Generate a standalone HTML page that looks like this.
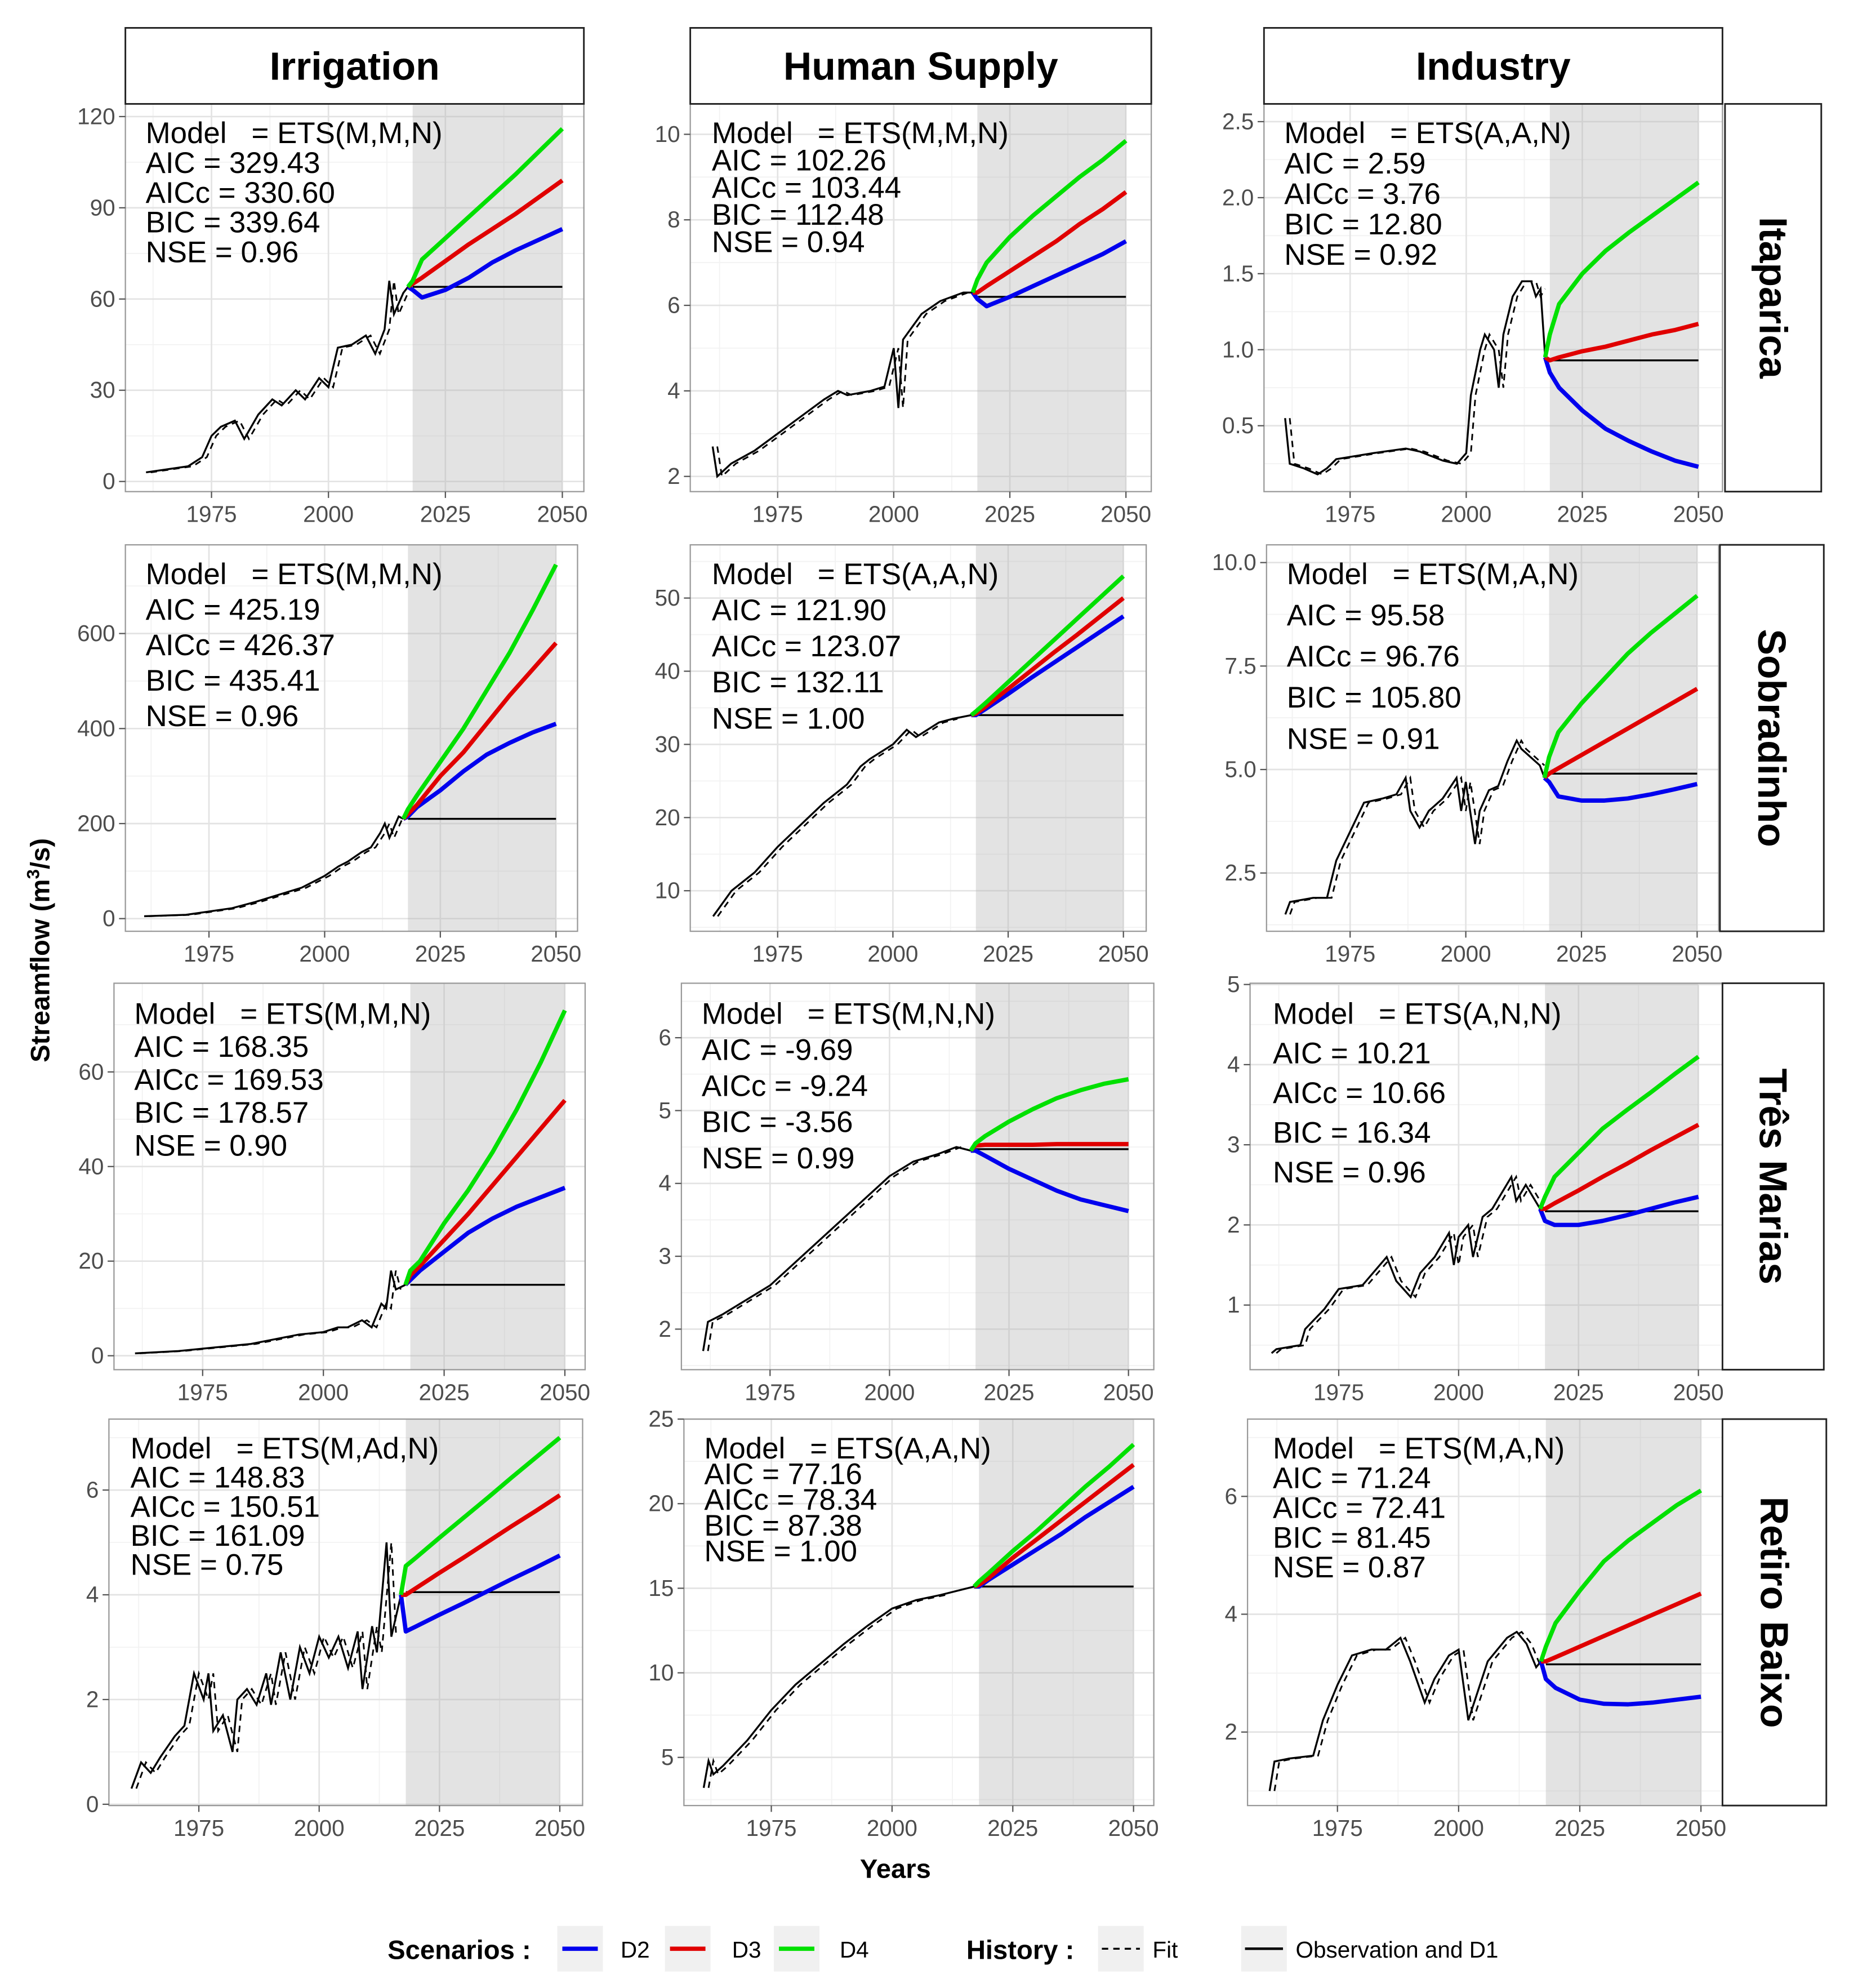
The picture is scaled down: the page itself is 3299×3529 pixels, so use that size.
<!DOCTYPE html>
<html><head><meta charset="utf-8">
<style>
html,body{margin:0;padding:0;background:#fff;}
svg{display:block;font-family:"Liberation Sans",Arial,sans-serif;}
</style></head>
<body>
<svg id="fig" xmlns="http://www.w3.org/2000/svg" width="3299" height="3529" viewBox="0 0 1467 1569" preserveAspectRatio="none">
<rect x="0" y="0" width="1467" height="1569" fill="#fff"/>
</svg>
<script>
// ---------- DATA ----------
const fcYears = [2018,2020,2025,2030,2035,2040,2045,2050];
const categories = ["Irrigation","Human Supply","Industry"];
const reservoirs = ["Itaparica","Sobradinho","Três Marias","Retiro Baixo"];

const obsYears_P1 = [1961,1970,1973,1975,1977,1980,1982,1985,1988,1990,1993,1995,1998,2000,2002,2005,2008,2010,2012,2013,2014,2016,2017];
const obsVals_P1  = [3,5,8,15,18,20,14,22,27,25,30,27,34,31,44,45,48,42,50,66,55,62,64];
const d1_P1 = 64;
const d2_P1 = [63,60.5,63,67,72,76,79.5,83];
const d3_P1 = [65,67,72.5,78,83,88,93.5,99];
const d4_P1 = [66,73,80,87,94,101,108.5,116];

const obsYears_P2 = [1961,1962,1965,1970,1975,1980,1985,1988,1990,1995,1998,2000,2001,2002,2004,2006,2010,2015,2017];
const obsVals_P2  = [2.7,2.0,2.3,2.6,3.0,3.4,3.8,4.0,3.9,4.0,4.1,5.0,3.6,5.2,5.5,5.8,6.1,6.3,6.3];
const d1_P2 = 6.2;
const d2_P2 = [6.15,5.98,6.2,6.45,6.7,6.95,7.2,7.5];
const d3_P2 = [6.3,6.45,6.8,7.15,7.5,7.9,8.25,8.65];
const d4_P2 = [6.6,7.0,7.6,8.1,8.55,9.0,9.4,9.85];

const obsYears_P3 = [1961,1962,1965,1968,1970,1972,1980,1987,1990,1995,1998,2000,2001,2003,2004,2006,2007,2008,2010,2012,2014,2015,2016,2017];
const obsVals_P3  = [0.55,0.25,0.22,0.18,0.22,0.28,0.32,0.35,0.33,0.27,0.25,0.32,0.7,1.0,1.1,1.0,0.75,1.1,1.35,1.45,1.45,1.35,1.4,0.95];
const d1_P3 = 0.93;
const d2_P3 = [0.85,0.75,0.6,0.48,0.4,0.33,0.27,0.23];
const d3_P3 = [0.93,0.95,0.99,1.02,1.06,1.1,1.13,1.17];
const d4_P3 = [1.1,1.3,1.5,1.65,1.77,1.88,1.99,2.1];

const obsYears_P4 = [1961,1970,1975,1980,1985,1990,1995,1998,2000,2003,2005,2008,2010,2012,2013,2014,2016,2017];
const obsVals_P4  = [5,8,15,22,35,50,65,80,90,110,120,140,150,180,200,170,215,210];
const d1_P4 = 210;
const d2_P4 = [215,235,270,310,345,370,392,410];
const d3_P4 = [220,240,300,350,410,470,525,580];
const d4_P4 = [230,260,330,400,480,560,650,745];

const obsYears_P5 = [1961,1965,1970,1975,1980,1985,1990,1993,1995,2000,2003,2005,2010,2013,2017];
const obsVals_P5  = [6.5,10,12.5,16,19,22,24.5,27,28,30,32,31,33,33.5,34];
const d1_P5 = 34;
const d2_P5 = [34.0,34.8,36.9,39.1,41.2,43.3,45.4,47.5];
const d3_P5 = [34.2,35.1,37.6,40.1,42.6,45.0,47.5,50.0];
const d4_P5 = [34.5,35.6,38.5,41.4,44.3,47.2,50.1,53.0];

const obsYears_P6 = [1961,1962,1967,1970,1972,1975,1978,1982,1985,1987,1988,1990,1992,1995,1998,1999,2000,2002,2003,2005,2007,2009,2011,2012,2014,2016,2017];
const obsVals_P6  = [1.5,1.8,1.9,1.9,2.8,3.5,4.2,4.3,4.4,4.8,4.0,3.6,4.0,4.3,4.8,4.0,4.7,3.2,4.0,4.5,4.6,5.2,5.7,5.5,5.3,5.1,4.8];
const d1_P6 = 4.9;
const d2_P6 = [4.7,4.35,4.25,4.25,4.3,4.4,4.52,4.65];
const d3_P6 = [4.9,5.03,5.35,5.67,5.99,6.31,6.63,6.95];
const d4_P6 = [5.3,5.9,6.6,7.2,7.8,8.3,8.75,9.2];

const obsYears_P7 = [1961,1970,1975,1980,1985,1990,1995,2000,2003,2005,2008,2010,2012,2013,2014,2015,2017];
const obsVals_P7  = [0.5,1,1.5,2,2.5,3.5,4.5,5,6,6,7.5,6,11,10,18,14,15];
const d1_P7 = 15;
const d2_P7 = [16,18,22,26,29,31.5,33.5,35.5];
const d3_P7 = [17,19,24.5,30,36,42,48,54];
const d4_P7 = [18,20,28,35,43,52,62,73];

const obsYears_P8 = [1961,1962,1965,1970,1975,1980,1985,1990,1995,2000,2005,2010,2014,2017];
const obsVals_P8  = [1.7,2.1,2.2,2.4,2.6,2.9,3.2,3.5,3.8,4.1,4.3,4.4,4.5,4.45];
const d1_P8 = 4.47;
const d2_P8 = [4.45,4.38,4.2,4.05,3.9,3.78,3.7,3.62];
const d3_P8 = [4.52,4.53,4.53,4.53,4.54,4.54,4.54,4.54];
const d4_P8 = [4.55,4.65,4.85,5.02,5.17,5.28,5.37,5.43];

const obsYears_P9 = [1961,1962,1967,1968,1972,1975,1980,1985,1987,1990,1992,1995,1998,1999,2000,2002,2003,2005,2007,2009,2011,2012,2014,2016,2017];
const obsVals_P9  = [0.4,0.45,0.5,0.7,0.95,1.2,1.25,1.6,1.3,1.1,1.4,1.6,1.9,1.5,1.85,2.0,1.6,2.1,2.2,2.4,2.6,2.3,2.5,2.3,2.2];
const d1_P9 = 2.17;
const d2_P9 = [2.05,2.0,2.0,2.05,2.12,2.2,2.28,2.35];
const d3_P9 = [2.2,2.27,2.43,2.6,2.76,2.93,3.09,3.25];
const d4_P9 = [2.35,2.6,2.9,3.2,3.43,3.65,3.88,4.1];

const obsYears_P10 = [1961,1963,1965,1967,1970,1972,1974,1976,1977,1978,1980,1982,1983,1985,1987,1989,1990,1992,1994,1996,1998,2000,2002,2004,2006,2008,2009,2011,2012,2014,2015,2017];
const obsVals_P10  = [0.3,0.8,0.6,0.9,1.3,1.5,2.5,2.0,2.5,1.4,1.7,1.0,2.0,2.2,1.9,2.5,1.9,2.9,2.0,3.0,2.5,3.2,2.8,3.2,2.6,3.3,2.2,3.4,2.9,5.0,3.2,4.0];
const d1_P10 = 4.05;
const d2_P10 = [3.3,3.39,3.62,3.84,4.07,4.3,4.52,4.75];
const d3_P10 = [4.0,4.12,4.42,4.71,5.01,5.31,5.6,5.9];
const d4_P10 = [4.55,4.7,5.09,5.47,5.85,6.24,6.62,7.0];

const obsYears_P11 = [1961,1962,1963,1965,1970,1975,1980,1985,1990,1995,2000,2005,2010,2017];
const obsVals_P11  = [3.2,4.8,4.0,4.5,6,7.8,9.3,10.5,11.7,12.8,13.8,14.3,14.6,15.1];
const d1_P11 = 15.1;
const d2_P11 = [15.1,15.5,16.4,17.3,18.2,19.2,20.1,21];
const d3_P11 = [15.2,15.6,16.8,17.9,19.0,20.1,21.2,22.3];
const d4_P11 = [15.4,15.9,17.2,18.4,19.7,21.0,22.2,23.5];

const obsYears_P12 = [1961,1962,1965,1970,1972,1975,1978,1982,1985,1988,1990,1993,1995,1998,2000,2002,2004,2006,2008,2010,2012,2014,2016,2017];
const obsVals_P12  = [1.0,1.5,1.55,1.6,2.2,2.8,3.3,3.4,3.4,3.6,3.2,2.5,2.9,3.3,3.4,2.2,2.7,3.2,3.4,3.6,3.7,3.5,3.1,3.2];
const d1_P12 = 3.15;
const d2_P12 = [2.9,2.75,2.55,2.48,2.47,2.5,2.55,2.6];
const d3_P12 = [3.2,3.27,3.45,3.63,3.81,3.99,4.17,4.35];
const d4_P12 = [3.45,3.85,4.4,4.9,5.25,5.55,5.85,6.1];

const xTicks = [1975,2000,2025,2050];
const yTicks_P1=[0,30,60,90,120], yTicks_P2=[2,4,6,8,10], yTicks_P3=[0.5,1.0,1.5,2.0,2.5];
const yTicks_P4=[0,200,400,600], yTicks_P5=[10,20,30,40,50], yTicks_P6=[2.5,5.0,7.5,10.0];
const yTicks_P7=[0,20,40,60], yTicks_P8=[2,3,4,5,6], yTicks_P9=[1,2,3,4,5];
const yTicks_P10=[0,2,4,6], yTicks_P11=[5,10,15,20,25], yTicks_P12=[2,4,6];
const ann_P1=["Model   = ETS(M,M,N)","AIC = 329.43","AICc = 330.60","BIC = 339.64","NSE = 0.96"];
const ann_P2=["Model   = ETS(M,M,N)","AIC = 102.26","AICc = 103.44","BIC = 112.48","NSE = 0.94"];
const ann_P3=["Model   = ETS(A,A,N)","AIC = 2.59","AICc = 3.76","BIC = 12.80","NSE = 0.92"];
const ann_P4=["Model   = ETS(M,M,N)","AIC = 425.19","AICc = 426.37","BIC = 435.41","NSE = 0.96"];
const ann_P5=["Model   = ETS(A,A,N)","AIC = 121.90","AICc = 123.07","BIC = 132.11","NSE = 1.00"];
const ann_P6=["Model   = ETS(M,A,N)","AIC = 95.58","AICc = 96.76","BIC = 105.80","NSE = 0.91"];
const ann_P7=["Model   = ETS(M,M,N)","AIC = 168.35","AICc = 169.53","BIC = 178.57","NSE = 0.90"];
const ann_P8=["Model   = ETS(M,N,N)","AIC = -9.69","AICc = -9.24","BIC = -3.56","NSE = 0.99"];
const ann_P9=["Model   = ETS(A,N,N)","AIC = 10.21","AICc = 10.66","BIC = 16.34","NSE = 0.96"];
const ann_P10=["Model   = ETS(M,Ad,N)","AIC = 148.83","AICc = 150.51","BIC = 161.09","NSE = 0.75"];
const ann_P11=["Model   = ETS(A,A,N)","AIC = 77.16","AICc = 78.34","BIC = 87.38","NSE = 1.00"];
const ann_P12=["Model   = ETS(M,A,N)","AIC = 71.24","AICc = 72.41","BIC = 81.45","NSE = 0.87"];

// ---------- LAYOUT (positions only) ----------
const panels = [
 {id:"P1",box:[99,82,461,388],xc:[167,444],yc:[0,380,120,92],an:[115,105,23.5],obsY:obsYears_P1,obsV:obsVals_P1,d1:d1_P1,d2:d2_P1,d3:d3_P1,d4:d4_P1,yt:yTicks_P1,ann:ann_P1,dec:0},
 {id:"P2",box:[545,82,909,388],xc:[614,889],yc:[2,376,10,106],an:[562,105,21.5],obsY:obsYears_P2,obsV:obsVals_P2,d1:d1_P2,d2:d2_P2,d3:d3_P2,d4:d4_P2,yt:yTicks_P2,ann:ann_P2,dec:0},
 {id:"P3",box:[998,82,1360,388],xc:[1066,1341],yc:[0.5,336,2.5,96],an:[1014,105,24],obsY:obsYears_P3,obsV:obsVals_P3,d1:d1_P3,d2:d2_P3,d3:d3_P3,d4:d4_P3,yt:yTicks_P3,ann:ann_P3,dec:1},
 {id:"P4",box:[99,430,456,735],xc:[165,439],yc:[0,725,600,500],an:[115,453,28],obsY:obsYears_P4,obsV:obsVals_P4,d1:d1_P4,d2:d2_P4,d3:d3_P4,d4:d4_P4,yt:yTicks_P4,ann:ann_P4,dec:0},
 {id:"P5",box:[545,430,905,735],xc:[614,887],yc:[10,703,50,472],an:[562,453,28.5],obsY:obsYears_P5,obsV:obsVals_P5,d1:d1_P5,d2:d2_P5,d3:d3_P5,d4:d4_P5,yt:yTicks_P5,ann:ann_P5,dec:0},
 {id:"P6",box:[1000,430,1357,735],xc:[1066,1340],yc:[2.5,689,10,444],an:[1016,453,32.5],obsY:obsYears_P6,obsV:obsVals_P6,d1:d1_P6,d2:d2_P6,d3:d3_P6,d4:d4_P6,yt:yTicks_P6,ann:ann_P6,dec:1},
 {id:"P7",box:[90,776,462,1081],xc:[160,446],yc:[0,1070,60,846],an:[106,800,26],obsY:obsYears_P7,obsV:obsVals_P7,d1:d1_P7,d2:d2_P7,d3:d3_P7,d4:d4_P7,yt:yTicks_P7,ann:ann_P7,dec:0},
 {id:"P8",box:[538,776,911,1081],xc:[608,891],yc:[2,1049,6,819],an:[554,800,28.5],obsY:obsYears_P8,obsV:obsVals_P8,d1:d1_P8,d2:d2_P8,d3:d3_P8,d4:d4_P8,yt:yTicks_P8,ann:ann_P8,dec:0},
 {id:"P9",box:[987,776,1360,1081],xc:[1057,1341],yc:[1,1030,5,777],an:[1005,800,31.3],obsY:obsYears_P9,obsV:obsVals_P9,d1:d1_P9,d2:d2_P9,d3:d3_P9,d4:d4_P9,yt:yTicks_P9,ann:ann_P9,dec:0},
 {id:"P10",box:[86,1120,460,1425],xc:[157,442],yc:[0,1424,6,1176],an:[103,1143,23],obsY:obsYears_P10,obsV:obsVals_P10,d1:d1_P10,d2:d2_P10,d3:d3_P10,d4:d4_P10,yt:yTicks_P10,ann:ann_P10,dec:0},
 {id:"P11",box:[540,1120,911,1425],xc:[609,895],yc:[5,1387,25,1120],an:[556,1143,20.3],obsY:obsYears_P11,obsV:obsVals_P11,d1:d1_P11,d2:d2_P11,d3:d3_P11,d4:d4_P11,yt:yTicks_P11,ann:ann_P11,dec:0},
 {id:"P12",box:[985,1120,1360,1425],xc:[1056,1343],yc:[2,1367,6,1181],an:[1005,1143,23.5],obsY:obsYears_P12,obsV:obsVals_P12,d1:d1_P12,d2:d2_P12,d3:d3_P12,d4:d4_P12,yt:yTicks_P12,ann:ann_P12,dec:0}
];
const topStrips=[[99,22,461,82],[545,22,909,82],[998,22,1360,82]];
const sideStrips=[[1362,82,1438,388],[1358,430,1440,735],[1360,776,1440,1081],[1360,1120,1442,1425]];

// ---------- DRAW ----------
const NS="http://www.w3.org/2000/svg";
const svg=document.getElementById('fig');
function mk(tag,attrs,parent){const e=document.createElementNS(NS,tag);for(const k in attrs)e.setAttribute(k,attrs[k]);(parent||svg).appendChild(e);return e;}
function pts(xs,ys,fx,fy){return xs.map((x,i)=>fx(x).toFixed(2)+","+fy(ys[i]).toFixed(2)).join(" ");}

panels.forEach((p,pi)=>{
  const [x0,y0,x1,y1]=p.box;
  const fx=yr=>p.xc[0]+(yr-1975)*(p.xc[1]-p.xc[0])/75;
  const fy=v=>p.yc[1]+(v-p.yc[0])*(p.yc[3]-p.yc[1])/(p.yc[2]-p.yc[0]);
  const g=mk('g',{});
  
  
  mk('rect',{x:x0,y:y0,width:x1-x0,height:y1-y0,fill:'#fff'},g);
  [1962.5,1987.5,2012.5,2037.5].forEach(yr=>{const X=fx(yr);if(X>x0&&X<x1)mk('line',{x1:X,x2:X,y1:y0,y2:y1,stroke:'#f2f2f2','stroke-width':0.8},g);});
  for(let i=0;i<p.yt.length+1;i++){const step=p.yt[1]-p.yt[0];const v=p.yt[0]-step/2+i*step;const Y=fy(v);if(Y>y0&&Y<y1)mk('line',{x1:x0,x2:x1,y1:Y,y2:Y,stroke:'#f2f2f2','stroke-width':0.8},g);}
  xTicks.forEach(yr=>{const X=fx(yr);mk('line',{x1:X,x2:X,y1:y0,y2:y1,stroke:'#e3e3e3','stroke-width':1.2},g);});
  p.yt.forEach(v=>{const Y=fy(v);mk('line',{x1:x0,x2:x1,y1:Y,y2:Y,stroke:'#e3e3e3','stroke-width':1.2},g);});
  const sh=mk('rect',{x:fx(2018),y:y0,width:fx(2050)-fx(2018),height:y1-y0,fill:'#b0b0b0','fill-opacity':0.35},g);
  
  
  const fitX=p.obsY.map(y=>y+1);
  const fit=mk('polyline',{points:pts(fitX.slice(0,-1),p.obsV.slice(0,-1),fx,fy),fill:'none',stroke:'#000','stroke-width':1.3,'stroke-dasharray':'5,4'},g);
  
  
  const ob=mk('polyline',{points:pts(p.obsY,p.obsV,fx,fy),fill:'none',stroke:'#000','stroke-width':1.5},g);
  
  
  const lastY=p.obsY[p.obsY.length-1], lastV=p.obsV[p.obsV.length-1];
  const d1=mk('line',{x1:fx(2018),x2:fx(2050),y1:fy(p.d1),y2:fy(p.d1),stroke:'#000','stroke-width':1.5},g);
  
  
  [['d2','#0000ee',p.d2],['d3','#e00000',p.d3],['d4','#00e000',p.d4]].forEach(([n,c,vals])=>{
    const l=mk('polyline',{points:fx(lastY).toFixed(2)+","+fy(lastV).toFixed(2)+" "+pts(fcYears,vals,fx,fy),fill:'none',stroke:c,'stroke-width':3.4,'stroke-linejoin':'round'},g);
    
    
  });
  mk('rect',{x:x0,y:y0,width:x1-x0,height:y1-y0,fill:'none',stroke:'#999','stroke-width':1},g);
  xTicks.forEach(yr=>{const X=fx(yr);mk('line',{x1:X,x2:X,y1:y1,y2:y1+5,stroke:'#555','stroke-width':1},g);
    const t=mk('text',{x:X,y:y1+24,'text-anchor':'middle','font-size':18,fill:'#4d4d4d'},g);t.textContent=yr;
    
    });
  p.yt.forEach(v=>{const Y=fy(v);mk('line',{x1:x0-5,x2:x0,y1:Y,y2:Y,stroke:'#555','stroke-width':1},g);
    const t=mk('text',{x:x0-8,y:Y+6,'text-anchor':'end','font-size':18,fill:'#4d4d4d'},g);t.textContent=v.toFixed(p.dec);
    
    });
  p.ann.forEach((s,i)=>{const t=mk('text',{x:p.an[0],y:p.an[1]+i*p.an[2]+8,'font-size':23.5,fill:'#000'},g);
    t.setAttribute('style','white-space:pre');t.textContent=s;
    
    });
});

topStrips.forEach((b,i)=>{
  const r=mk('rect',{x:b[0],y:b[1],width:b[2]-b[0],height:b[3]-b[1],fill:'#fff',stroke:'#222','stroke-width':1.3});
  
  
  const t=mk('text',{x:(b[0]+b[2])/2,y:(b[1]+b[3])/2+11,'text-anchor':'middle','font-size':31,'font-weight':'bold',fill:'#000'});
  t.textContent=categories[i];
  
  
});
sideStrips.forEach((b,i)=>{
  const r=mk('rect',{x:b[0],y:b[1],width:b[2]-b[0],height:b[3]-b[1],fill:'#fff',stroke:'#222','stroke-width':1.3});
  
  
  const cx=(b[0]+b[2])/2, cy=(b[1]+b[3])/2;
  const t=mk('text',{x:cx,y:cy,'text-anchor':'middle','dominant-baseline':'central','font-size':31,'font-weight':'bold',fill:'#000',transform:`rotate(90 ${cx} ${cy})`});
  t.textContent=reservoirs[i];
  
  
});
</script>
<svg style="position:absolute;left:0;top:0" width="3299" height="3529" viewBox="0 0 1467 1569" preserveAspectRatio="none" font-family="Liberation Sans, Arial, sans-serif">
  <text x="0" y="0" transform="translate(39 750) rotate(-90)" text-anchor="middle" font-size="21" font-weight="bold">Streamflow (m<tspan font-size="14" dy="-8">3</tspan><tspan dy="8">/s)</tspan></text>
  <text x="707" y="1482" text-anchor="middle" font-size="21" font-weight="bold">Years</text>
  <g>
    <text x="306" y="1546" font-size="21" font-weight="bold">Scenarios :</text>
    <rect x="440" y="1520" width="36" height="36" fill="#f0f0f0"/>
    <line x1="444" x2="472" y1="1538" y2="1538" stroke="#0000ee" stroke-width="3.4"/>
    <text x="490" y="1545" font-size="18">D2</text>
    <rect x="525" y="1520" width="36" height="36" fill="#f0f0f0"/>
    <line x1="529" x2="557" y1="1538" y2="1538" stroke="#e00000" stroke-width="3.4"/>
    <text x="578" y="1545" font-size="18">D3</text>
    <rect x="611" y="1520" width="36" height="36" fill="#f0f0f0"/>
    <line x1="615" x2="643" y1="1538" y2="1538" stroke="#00e000" stroke-width="3.4"/>
    <text x="663" y="1545" font-size="18">D4</text>
    <text x="763" y="1546" font-size="21" font-weight="bold">History :</text>
    <rect x="867" y="1520" width="36" height="36" fill="#f0f0f0"/>
    <line x1="870" x2="900" y1="1538" y2="1538" stroke="#000" stroke-width="1.5" stroke-dasharray="5,4"/>
    <text x="910" y="1545" font-size="18">Fit</text>
    <rect x="980" y="1520" width="36" height="36" fill="#f0f0f0"/>
    <line x1="983" x2="1013" y1="1538" y2="1538" stroke="#000" stroke-width="2"/>
    <text x="1023" y="1545" font-size="18">Observation and D1</text>
  </g>
</svg>
</body></html>
